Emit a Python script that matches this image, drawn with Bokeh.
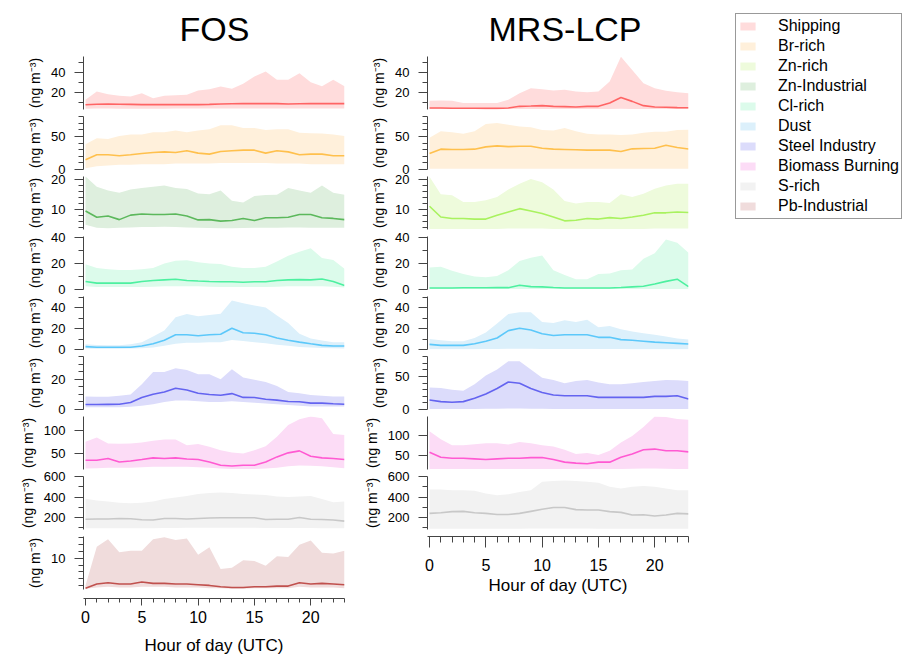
from bokeh.plotting import figure
from bokeh.layouts import column, row
from bokeh.models import Range1d, FixedTicker, Legend, LegendItem
from bokeh.embed import file_html
from bokeh.resources import INLINE

hours = list(range(24))
hour_ticks = [0, 5, 10, 15, 20]

factors = ["Shipping", "Br-rich", "Zn-rich", "Zn-Industrial", "Cl-rich", "Dust",
           "Steel Industry", "Biomass Burning", "S-rich", "Pb-Industrial"]
line_colors = ["#ff6464", "#ffc04d", "#a9f25f", "#5cb85c", "#4df0a0", "#5cc8fa",
               "#6464f0", "#ff5ad2", "#c8c8c8", "#c0504d"]
band_colors = ["#ffdcdc", "#fff0db", "#eefbdc", "#deefde", "#dcfbeb", "#dcf0fb",
               "#dcdcfb", "#fcdcf6", "#f2f2f2", "#f0dcdc"]

# ---------------- FOS ----------------
fos_shipping_up = [12.4, 20.7, 18.0, 16.4, 15.7, 19.0, 14.0, 16.4, 17.0, 17.4, 21.7, 23.0, 25.7, 23.4, 28.4, 35.7, 40.7, 32.4, 32.4, 39.0, 30.0, 26.0, 32.4, 26.0]
fos_shipping_med = [7.4, 8.0, 8.2, 8.0, 7.8, 7.6, 7.6, 7.6, 7.6, 7.6, 7.6, 7.8, 8.2, 8.4, 8.6, 8.6, 8.6, 8.6, 8.2, 8.4, 8.6, 8.6, 8.6, 8.6]
fos_shipping_lo = [3.4, 3.6, 3.6, 3.5, 3.5, 3.5, 3.5, 3.5, 3.6, 3.6, 3.6, 3.6, 3.8, 3.8, 3.8, 3.8, 3.8, 3.8, 3.7, 3.7, 3.8, 3.8, 3.8, 3.8]

fos_br_up = [38.1, 47.0, 46.0, 50.4, 53.0, 53.0, 56.4, 56.4, 58.9, 56.4, 58.9, 60.8, 66.8, 66.8, 62.8, 62.8, 59.8, 60.8, 60.8, 55.4, 54.9, 54.4, 53.0, 50.4]
fos_br_med = [14.8, 22.2, 22.2, 20.8, 22.2, 24.2, 25.7, 26.6, 25.7, 28.2, 24.7, 23.2, 27.2, 28.2, 29.2, 29.2, 24.7, 28.2, 26.6, 22.2, 23.2, 23.2, 20.8, 20.8]
fos_br_lo = [2.0, 5.0, 6.0, 7.0, 7.0, 8.0, 8.0, 8.0, 9.0, 9.0, 9.0, 9.0, 10.0, 10.0, 10.0, 10.0, 10.0, 9.0, 9.0, 9.0, 8.0, 8.0, 8.0, 8.0]

fos_znind_up = [21.1, 17.7, 16.4, 15.7, 16.8, 17.3, 17.7, 18.1, 17.3, 16.9, 15.4, 15.2, 16.4, 13.0, 12.4, 14.6, 14.9, 15.0, 17.3, 16.4, 15.7, 18.1, 15.7, 15.0]
fos_znind_med = [9.6, 7.5, 7.9, 6.7, 8.2, 8.6, 8.4, 8.4, 8.6, 7.9, 6.6, 6.7, 6.2, 6.4, 7.1, 6.4, 7.3, 7.3, 7.5, 8.4, 8.4, 7.3, 7.1, 6.7]
fos_znind_lo = [5.0, 4.0, 3.8, 4.0, 4.1, 4.2, 4.2, 4.3, 4.2, 4.1, 4.0, 3.9, 3.8, 3.8, 3.9, 4.0, 4.0, 4.0, 4.1, 4.1, 4.0, 4.0, 4.0, 4.0]

fos_cl_up = [19.3, 16.5, 15.5, 15.0, 15.0, 15.5, 16.5, 20.0, 22.0, 22.5, 21.0, 20.0, 19.5, 17.5, 16.5, 16.5, 17.5, 21.5, 25.9, 28.9, 31.6, 24.2, 22.7, 16.0]
fos_cl_med = [6.2, 4.9, 4.9, 4.9, 4.9, 6.2, 6.9, 7.4, 7.9, 6.9, 6.5, 6.2, 6.0, 5.9, 5.6, 5.9, 5.9, 6.9, 7.4, 7.6, 7.4, 8.1, 6.2, 3.0]
fos_cl_lo = [2.5, 2.0, 2.0, 2.0, 2.0, 2.0, 2.2, 2.4, 2.5, 2.5, 2.4, 2.2, 2.0, 2.0, 2.0, 2.0, 2.0, 2.2, 2.4, 2.5, 2.5, 2.5, 2.2, 1.5]

fos_dust_up = [4.9, 4.3, 4.0, 4.0, 4.9, 7.0, 12.5, 18.0, 30.8, 33.9, 31.7, 32.8, 34.0, 46.8, 44.0, 42.0, 40.0, 32.4, 25.3, 15.0, 10.5, 8.5, 7.0, 7.0]
fos_dust_med = [2.7, 2.1, 2.1, 2.1, 2.1, 3.3, 5.4, 8.8, 14.0, 14.0, 13.1, 14.0, 14.6, 20.2, 16.0, 15.5, 14.0, 11.0, 8.8, 7.0, 5.4, 3.9, 3.3, 3.3]
fos_dust_lo = [0.9, 0.8, 0.8, 0.8, 0.9, 1.2, 2.0, 3.5, 5.5, 6.5, 6.5, 6.8, 7.0, 9.0, 8.0, 7.0, 6.0, 4.5, 3.5, 2.5, 2.0, 1.5, 1.2, 1.0]

fos_steel_up = [8.6, 8.4, 8.4, 9.0, 9.9, 16.7, 24.8, 24.8, 27.2, 26.1, 23.3, 23.3, 20.0, 26.5, 21.1, 19.6, 18.2, 15.6, 11.6, 10.8, 9.5, 9.0, 8.6, 8.6]
fos_steel_med = [3.3, 3.3, 3.4, 3.5, 4.6, 7.9, 10.1, 11.6, 14.0, 12.9, 10.7, 9.9, 9.4, 10.5, 8.0, 7.9, 6.8, 6.2, 5.3, 5.1, 4.2, 4.2, 3.8, 3.5]
fos_steel_lo = [1.5, 1.5, 1.5, 1.5, 1.8, 2.5, 3.5, 5.0, 6.0, 6.0, 5.5, 5.0, 5.0, 5.5, 5.0, 4.5, 4.0, 3.5, 3.0, 2.5, 2.0, 2.0, 2.0, 2.0]

fos_bb_up = [75.6, 85.3, 72.0, 71.3, 72.0, 74.3, 77.9, 80.9, 80.9, 68.3, 70.6, 64.8, 57.4, 52.2, 50.0, 57.4, 66.1, 86.7, 112.5, 125.0, 130.9, 127.2, 92.6, 90.4]
fos_bb_med = [35.3, 35.3, 39.0, 31.5, 33.7, 36.8, 40.4, 39.0, 40.4, 38.1, 36.8, 31.5, 24.2, 22.7, 24.2, 24.2, 31.5, 42.6, 51.4, 55.8, 44.1, 40.4, 39.0, 36.8]
fos_bb_lo = [17.0, 18.0, 19.0, 19.0, 19.0, 20.0, 21.0, 21.0, 21.0, 21.0, 20.0, 19.0, 17.0, 16.0, 16.0, 16.0, 17.0, 19.0, 22.0, 24.0, 23.0, 22.0, 20.0, 18.0]

fos_s_up = [384, 365, 355, 345, 340, 345, 355, 380, 395, 410, 430, 440, 445, 440, 430, 425, 420, 405, 400, 405, 410, 380, 350, 355]
fos_s_med = [183, 185, 186, 190, 188, 178, 175, 190, 190, 185, 190, 195, 197, 197, 197, 197, 180, 183, 183, 200, 183, 180, 175, 165]
fos_s_lo = [95, 96, 96, 95, 95, 95, 96, 97, 98, 99, 100, 100, 100, 100, 100, 99, 98, 97, 97, 98, 97, 96, 95, 95]

fos_pb_up = [6.0, 11.7, 12.8, 10.9, 11.1, 11.1, 12.8, 13.1, 12.7, 12.9, 10.5, 11.6, 8.4, 8.6, 9.7, 9.6, 8.9, 10.3, 10.2, 12.0, 12.6, 10.8, 10.7, 11.1]
fos_pb_med = [5.6, 6.2, 6.4, 6.2, 6.2, 6.5, 6.3, 6.3, 6.2, 6.2, 6.1, 6.0, 5.8, 5.7, 5.7, 5.8, 5.8, 5.9, 5.9, 6.4, 6.2, 6.3, 6.2, 6.1]
fos_pb_lo = [5.5, 5.7, 5.8, 5.7, 5.7, 5.8, 5.8, 5.8, 5.7, 5.7, 5.7, 5.6, 5.6, 5.5, 5.5, 5.6, 5.6, 5.6, 5.6, 5.8, 5.7, 5.7, 5.7, 5.6]

# ---------------- MRS-LCP ----------------
mrs_shipping_up = [11.4, 11.7, 11.4, 9.0, 9.0, 9.0, 9.0, 12.4, 19.0, 24.0, 23.0, 21.7, 22.4, 20.7, 20.0, 20.7, 30.7, 55.7, 42.4, 29.0, 24.0, 21.4, 20.0, 19.0]
mrs_shipping_med = [4.0, 4.0, 3.8, 3.7, 3.7, 3.6, 3.6, 4.0, 5.7, 6.0, 6.4, 5.7, 5.4, 5.0, 5.7, 5.7, 9.0, 14.7, 10.7, 6.4, 5.0, 4.7, 4.4, 4.2]
mrs_shipping_lo = [2.9, 2.9, 2.9, 2.9, 2.9, 2.9, 2.9, 2.9, 3.0, 3.0, 3.0, 3.0, 3.0, 3.0, 3.0, 3.0, 3.1, 3.2, 3.1, 3.0, 2.9, 2.9, 2.9, 2.9]

mrs_br_up = [47.9, 57.9, 56.4, 53.9, 57.9, 68.7, 70.2, 67.7, 64.8, 63.8, 59.8, 58.9, 62.8, 57.9, 53.9, 52.9, 52.9, 51.9, 52.9, 55.4, 56.9, 56.9, 59.8, 60.0]
mrs_br_med = [24.2, 30.7, 30.2, 30.2, 30.7, 34.1, 35.6, 34.6, 35.1, 35.1, 32.1, 30.7, 30.2, 29.7, 29.2, 29.2, 29.2, 27.2, 31.2, 31.7, 32.1, 36.6, 33.1, 31.0]
mrs_br_lo = [1.0, 1.0, 1.0, 1.0, 1.0, 1.2, 1.2, 1.2, 1.2, 1.2, 1.1, 1.0, 1.0, 1.0, 1.0, 1.0, 1.0, 1.0, 1.0, 1.0, 1.0, 1.1, 1.0, 1.0]

mrs_znrich_up = [21.0, 15.1, 14.8, 12.5, 12.5, 13.1, 14.2, 16.7, 18.7, 20.3, 19.2, 16.7, 12.9, 12.0, 12.5, 12.5, 12.2, 15.1, 14.2, 15.3, 17.0, 18.1, 18.7, 18.7]
mrs_znrich_med = [11.1, 7.5, 7.0, 7.0, 6.8, 6.8, 8.1, 9.2, 10.3, 9.5, 8.7, 7.5, 6.2, 6.4, 7.0, 6.8, 7.3, 7.0, 7.5, 8.1, 8.9, 8.9, 9.2, 9.0]
mrs_znrich_lo = [3.5, 3.5, 3.5, 3.5, 3.5, 3.5, 3.5, 3.6, 3.6, 3.6, 3.6, 3.5, 3.5, 3.5, 3.5, 3.5, 3.5, 3.5, 3.5, 3.5, 3.6, 3.6, 3.6, 3.6]

mrs_cl_up = [16.8, 17.3, 14.3, 11.9, 9.9, 9.4, 10.4, 14.8, 21.7, 24.2, 25.9, 14.8, 11.1, 7.9, 7.9, 11.9, 12.3, 14.8, 15.3, 23.5, 27.7, 38.3, 35.8, 28.0]
mrs_cl_med = [1.2, 1.2, 1.2, 1.3, 1.3, 1.3, 1.4, 1.4, 3.2, 2.2, 2.0, 1.5, 1.2, 1.2, 1.2, 1.2, 1.2, 1.5, 2.0, 2.5, 4.2, 6.2, 7.9, 2.2]
mrs_cl_lo = [0.3, 0.3, 0.3, 0.3, 0.3, 0.3, 0.3, 0.3, 0.4, 0.4, 0.4, 0.3, 0.3, 0.3, 0.3, 0.3, 0.3, 0.3, 0.3, 0.3, 0.4, 0.4, 0.4, 0.3]

mrs_dust_up = [10.1, 8.8, 7.9, 7.9, 11.0, 16.1, 24.8, 33.9, 35.4, 35.4, 26.2, 25.3, 27.8, 26.2, 28.4, 21.1, 22.3, 19.3, 17.1, 15.6, 14.0, 12.5, 10.6, 9.5]
mrs_dust_med = [4.9, 3.9, 3.9, 3.9, 5.5, 7.9, 11.0, 18.0, 20.2, 18.6, 15.0, 13.4, 14.0, 14.0, 14.0, 11.6, 11.6, 9.4, 8.8, 7.9, 7.0, 6.4, 5.8, 5.2]
mrs_dust_lo = [0.3, 0.3, 0.3, 0.3, 0.3, 0.4, 0.5, 0.6, 0.6, 0.6, 0.5, 0.5, 0.5, 0.5, 0.5, 0.4, 0.4, 0.4, 0.3, 0.3, 0.3, 0.3, 0.3, 0.3]

mrs_steel_up = [33.2, 32.6, 29.7, 28.2, 38.1, 51.5, 60.4, 72.7, 72.7, 60.4, 48.1, 44.5, 39.6, 43.0, 44.5, 40.6, 38.1, 38.1, 39.6, 41.5, 43.0, 44.5, 44.0, 43.0]
mrs_steel_med = [14.4, 11.9, 10.9, 11.9, 16.9, 23.3, 31.7, 41.5, 39.6, 31.7, 25.8, 21.8, 20.8, 20.8, 20.8, 18.3, 18.3, 18.3, 18.3, 18.3, 19.8, 19.8, 20.8, 16.0]
mrs_steel_lo = [0.8, 0.8, 0.8, 0.8, 0.9, 1.0, 1.2, 1.4, 1.4, 1.2, 1.0, 0.9, 0.9, 0.9, 0.9, 0.8, 0.8, 0.8, 0.8, 0.8, 0.8, 0.8, 0.8, 0.8]

mrs_bb_up = [110.3, 90.5, 76.2, 76.2, 78.6, 81.0, 81.0, 77.8, 84.0, 81.0, 76.2, 73.0, 65.0, 54.8, 57.1, 52.4, 62.7, 82.5, 98.4, 120.6, 146.0, 144.5, 139.7, 138.0]
mrs_bb_med = [58.8, 46.8, 44.4, 44.4, 42.9, 41.3, 42.9, 44.4, 44.4, 46.0, 46.0, 41.3, 34.9, 32.5, 31.0, 34.9, 34.9, 46.8, 54.8, 65.0, 66.7, 62.7, 62.7, 60.0]
mrs_bb_lo = [18.0, 18.0, 18.0, 18.0, 18.0, 18.0, 18.0, 18.0, 18.0, 18.0, 18.0, 18.0, 18.0, 18.0, 18.0, 18.0, 18.0, 18.5, 19.0, 19.5, 19.5, 19.0, 18.5, 18.0]

mrs_s_up = [473, 473, 467, 467, 460, 434, 417, 427, 450, 467, 550, 557, 560, 557, 550, 540, 500, 484, 500, 507, 500, 484, 467, 465]
mrs_s_med = [240, 247, 257, 260, 247, 240, 230, 230, 240, 260, 280, 297, 297, 277, 273, 273, 257, 250, 224, 227, 214, 224, 240, 235]
mrs_s_lo = [90, 90, 90, 90, 90, 90, 90, 90, 91, 92, 93, 93, 93, 92, 92, 91, 90, 90, 90, 90, 90, 90, 90, 90]

FONT = "Liberation Sans"
AXIS_COL = "#444444"
YLABEL = "(ng m\u207b\u00b3)"
PITCH_OVERLAP = -13   # canvases overlap so edge tick labels are not clipped


def make_panel(idx, up, med, lo, yr, majors, minors, left_border, title=None, title_offset=0):
    p = figure(frame_width=261, frame_height=53,
               x_range=Range1d(-0.18, 23), y_range=Range1d(*yr),
               output_backend="svg", toolbar_location=None,
               x_axis_location=None, min_border_left=left_border, min_border_right=8,
               min_border_top=55 if title else 10, min_border_bottom=10, title=title,
               margin=(0, 0, 0, 0) if title else (PITCH_OVERLAP, 0, 0, 0))
    p.outline_line_color = None
    p.background_fill_color = None
    p.border_fill_color = None
    p.grid.visible = False
    p.varea(x=hours, y1=lo, y2=up, fill_color=band_colors[idx], fill_alpha=1.0)
    p.line(hours, med, line_color=line_colors[idx], line_width=1.6)
    ax = p.yaxis[0]
    ax.ticker = FixedTicker(ticks=majors, minor_ticks=minors)
    ax.axis_line_color = AXIS_COL
    ax.major_tick_line_color = AXIS_COL
    ax.minor_tick_line_color = AXIS_COL
    ax.major_tick_out = 9
    ax.major_tick_in = 0
    ax.minor_tick_out = 5
    ax.minor_tick_in = 0
    ax.major_label_standoff = 9
    ax.major_label_text_font = FONT
    ax.major_label_text_font_size = "13px"
    ax.major_label_text_color = "black"
    ax.axis_label = YLABEL
    ax.axis_label_text_font = FONT
    ax.axis_label_text_font_size = "14px"
    ax.axis_label_text_font_style = "normal"
    ax.axis_label_text_color = "black"
    ax.axis_label_standoff = 5
    if title:
        p.title.text_font = FONT
        p.title.text_font_size = "34px"
        p.title.text_font_style = "normal"
        p.title.text_color = "black"
        p.title.align = "left"
        p.title.offset = title_offset
        p.title.vertical_align = "middle"
        p.title.standoff = 16
    return p


def make_xaxis(overlap, left_border, tick_out, minor_out, lab_standoff, title_standoff):
    p = figure(frame_width=261, frame_height=1,
               x_range=Range1d(-0.18, 23), y_range=Range1d(0, 1),
               output_backend="svg", toolbar_location=None,
               y_axis_location=None, min_border_left=left_border, min_border_right=8,
               min_border_top=5, min_border_bottom=0, margin=(overlap, 0, 0, 0))
    p.outline_line_color = None
    p.background_fill_color = None
    p.border_fill_color = None
    p.grid.visible = False
    ax = p.xaxis[0]
    ax.ticker = FixedTicker(ticks=hour_ticks, minor_ticks=hours)
    ax.axis_line_color = AXIS_COL
    ax.major_tick_line_color = AXIS_COL
    ax.minor_tick_line_color = AXIS_COL
    ax.major_tick_out = tick_out
    ax.major_tick_in = 0
    ax.minor_tick_out = minor_out
    ax.minor_tick_in = 0
    ax.major_label_standoff = lab_standoff
    ax.major_label_text_font = FONT
    ax.major_label_text_font_size = "16px"
    ax.major_label_text_color = "black"
    ax.axis_label = "Hour of day (UTC)"
    ax.axis_label_text_font = FONT
    ax.axis_label_text_font_size = "17px"
    ax.axis_label_text_font_style = "normal"
    ax.axis_label_text_color = "black"
    ax.axis_label_standoff = title_standoff
    return p


LB = 83   # left column frame offset
RB = 75   # right column frame offset

left = [
    make_panel(0, fos_shipping_up, fos_shipping_med, fos_shipping_lo, (2.7, 55.7), [20, 40], [10, 30, 50], LB, "FOS", 96),
    make_panel(1, fos_br_up, fos_br_med, fos_br_lo, (0, 80), [0, 50], [10, 20, 30, 40, 60, 70, 80], LB),
    make_panel(3, fos_znind_up, fos_znind_med, fos_znind_lo, (3.4, 21.1), [10, 20], [4, 6, 8, 12, 14, 16, 18], LB),
    make_panel(4, fos_cl_up, fos_cl_med, fos_cl_lo, (0, 40.7), [0, 20, 40], [10, 30], LB),
    make_panel(5, fos_dust_up, fos_dust_med, fos_dust_lo, (0, 50.5), [0, 20, 40], [10, 30, 50], LB),
    make_panel(6, fos_steel_up, fos_steel_med, fos_steel_lo, (0, 35), [0, 20], [5, 10, 15, 25, 30, 35], LB),
    make_panel(7, fos_bb_up, fos_bb_med, fos_bb_lo, (15, 131), [50, 100], [], LB),
    make_panel(8, fos_s_up, fos_s_med, fos_s_lo, (83, 600), [200, 400, 600], [100, 300, 500], LB),
    make_panel(9, fos_pb_up, fos_pb_med, fos_pb_lo, (5.4, 13.2), [10], [6, 7, 8, 9, 11, 12, 13], LB),
    make_xaxis(-7, LB, 7, 4, 5, 10),
]

right = [
    make_panel(0, mrs_shipping_up, mrs_shipping_med, mrs_shipping_lo, (2.5, 56.0), [20, 40], [10, 30, 50], RB, "MRS-LCP", 61),
    make_panel(1, mrs_br_up, mrs_br_med, mrs_br_lo, (0, 80), [0, 50], [10, 20, 30, 40, 60, 70, 80], RB),
    make_panel(2, mrs_znrich_up, mrs_znrich_med, mrs_znrich_lo, (3.3, 21.1), [10, 20], [4, 6, 8, 12, 14, 16, 18], RB),
    make_panel(4, mrs_cl_up, mrs_cl_med, mrs_cl_lo, (0, 40.5), [0, 20, 40], [10, 30], RB),
    make_panel(5, mrs_dust_up, mrs_dust_med, mrs_dust_lo, (0, 50.5), [0, 20, 40], [10, 30, 50], RB),
    make_panel(6, mrs_steel_up, mrs_steel_med, mrs_steel_lo, (0, 80), [0, 50], [10, 20, 30, 40, 60, 70, 80], RB),
    make_panel(7, mrs_bb_up, mrs_bb_med, mrs_bb_lo, (17, 146), [50, 100], [], RB),
    make_panel(8, mrs_s_up, mrs_s_med, mrs_s_lo, (83, 600), [200, 400, 600], [100, 300, 500], RB),
    make_xaxis(-9, RB, 11, 6, 11, 2),
]

# legend panel: band swatches drawn from the series (kept outside the visible y range)
legend_series = [(fos_shipping_lo, fos_shipping_up), (fos_br_lo, fos_br_up),
                 (mrs_znrich_lo, mrs_znrich_up), (fos_znind_lo, fos_znind_up),
                 (fos_cl_lo, fos_cl_up), (fos_dust_lo, fos_dust_up),
                 (fos_steel_lo, fos_steel_up), (fos_bb_lo, fos_bb_up),
                 (fos_s_lo, fos_s_up), (fos_pb_lo, fos_pb_up)]
leg = figure(width=214, height=230, output_backend="svg", toolbar_location=None,
             x_axis_location=None, y_axis_location=None, min_border=0,
             x_range=Range1d(0, 23), y_range=Range1d(-2, -1))
leg.outline_line_color = None
leg.grid.visible = False
items = []
for i, name in enumerate(factors):
    lo, up = legend_series[i]
    r = leg.varea(x=hours, y1=lo, y2=up, fill_color=band_colors[i], fill_alpha=1.0)
    items.append(LegendItem(label=name, renderers=[r]))
legend = Legend(items=items, location=(39, 11), margin=0, padding=2, spacing=0,
                glyph_width=19, glyph_height=10, label_height=20, label_standoff=21,
                label_text_font=FONT, label_text_font_size="16px", label_text_color="black",
                border_line_color="#333333", border_line_width=1, background_fill_color="white")
leg.add_layout(legend)

layout = row(column(*left, spacing=0), column(*right, spacing=0), leg, spacing=0)

open("out.html", "w").write(file_html(layout, INLINE))
